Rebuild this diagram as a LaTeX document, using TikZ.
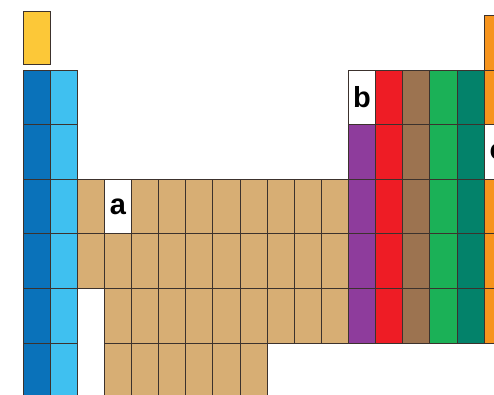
\documentclass[tikz,border=0pt]{standalone}
\usepackage{fontspec}
\setsansfont{Liberation Sans}
\usepackage{tikz}
\usetikzlibrary{positioning}
\definecolor{hydrogenyellow}{RGB}{252, 200, 56}
\definecolor{alkaliblue}{RGB}{10, 114, 186}
\definecolor{alkalineblue}{RGB}{63, 192, 240}
\definecolor{transtan}{RGB}{215, 174, 116}
\definecolor{groupviolet}{RGB}{142, 60, 156}
\definecolor{groupred}{RGB}{238, 28, 37}
\definecolor{groupbrown}{RGB}{156, 115, 80}
\definecolor{groupgreen}{RGB}{27, 177, 87}
\definecolor{groupteal}{RGB}{3, 130, 106}
\definecolor{noblegasorange}{RGB}{247, 148, 29}
\definecolor{gridline}{RGB}{60, 50, 45}

% one element box: column, row, fill colour
\newcommand{\elem}[3]{\draw[cell=#3] ({23+#1*\cw},{15.4+#2*\rh}) rectangle ++(\cw,\rh);}

\begin{document}
\begin{tikzpicture}[
    x=1pt, y=-1pt,
    cell/.style={draw=gridline, line width=0.8pt, fill=#1},
    tag/.style={font=\sffamily\bfseries\fontsize{29}{29}\selectfont, inner sep=0pt}
]
    \useasboundingbox (0,0) rectangle (494,394);
    \clip (0,0) rectangle (494,394);
    \def\cw{27.12}
    \def\rh{54.6}

    % Hydrogen on its own
    \draw[cell=hydrogenyellow] (23,11) rectangle ++(\cw,53);

    % s-block
    \foreach \r in {1,...,6} {\elem{0}{\r}{alkaliblue} \elem{1}{\r}{alkalineblue}}

    % d-block and f-block rows
    \foreach \g in {2,...,11} {\elem{\g}{3}{transtan} \elem{\g}{4}{transtan}}
    \foreach \g in {3,...,11} {\elem{\g}{5}{transtan}}
    \foreach \g in {3,...,8} {\elem{\g}{6}{transtan}}
    \elem{3}{3}{white}

    % p-block groups
    \foreach \g/\col in {12/groupviolet, 13/groupred, 14/groupbrown, 15/groupgreen, 16/groupteal}
        {\foreach \r in {1,...,5} {\elem{\g}{\r}{\col}}}
    \elem{12}{1}{white}
    \foreach \r in {0,...,5} {\elem{17}{\r}{noblegasorange}}
    \elem{17}{2}{white}

    % Marked elements
    \node[tag] (a) at ({23+3.5*\cw},{15.4+3.5*\rh}) {a};
    \node[tag] (b) at ({23+12.5*\cw},{15.4+1.5*\rh}) {b};
    \node[tag] (c) at ({23+17.5*\cw},{15.4+2.5*\rh}) {c};
\end{tikzpicture}
\end{document}
